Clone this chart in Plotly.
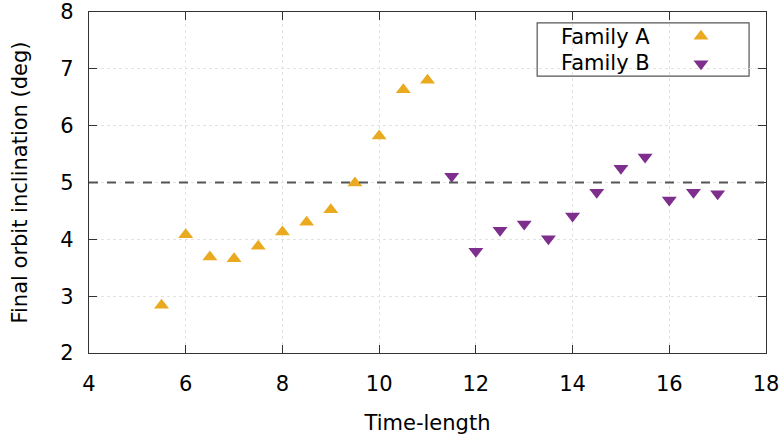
import plotly.graph_objects as go

xa = [5.5, 6, 6.5, 7, 7.5, 8, 8.5, 9, 9.5, 10, 10.5, 11]
ya = [2.84, 4.08, 3.69, 3.66, 3.88, 4.13, 4.30, 4.52, 4.99, 5.82, 6.63, 6.80]
xb = [11.5, 12, 12.5, 13, 13.5, 14, 14.5, 15, 15.5, 16, 16.5, 17]
yb = [5.11, 3.79, 4.16, 4.27, 4.01, 4.41, 4.83, 5.25, 5.45, 4.69, 4.83, 4.80]
names = ["Family A", "Family B"]
ref_level = 5
xticks = [4, 6, 8, 10, 12, 14, 16, 18]
yticks = [2, 3, 4, 5, 6, 7, 8]

ca = "#E9AA1F"
cb = "#7E2F8E"
font = "DejaVu Sans"
fs = 21

fig = go.Figure()
fig.add_trace(go.Scatter(x=xa, y=ya, mode="markers", name=names[0],
                         marker=dict(symbol="triangle-up", size=13, color=ca), showlegend=False))
fig.add_trace(go.Scatter(x=xb, y=yb, mode="markers", name=names[1],
                         marker=dict(symbol="triangle-down", size=13, color=cb), showlegend=False))

# custom legend markers (on an overlay axis in 0..1 space)
fig.add_trace(go.Scatter(x=[0.904, 0.904], y=[0.929, 0.848], mode="markers",
                         xaxis="x2", yaxis="y2", showlegend=False, hoverinfo="skip",
                         marker=dict(symbol=["triangle-up", "triangle-down"], size=13, color=[ca, cb])))

fig.add_shape(type="line", xref="paper", yref="y", x0=0, x1=1, y0=ref_level, y1=ref_level,
              line=dict(color="#555555", width=2, dash="dash"))
fig.add_shape(type="rect", xref="paper", yref="paper", x0=0.662, x1=0.975, y0=0.812, y1=0.968,
              line=dict(color="#555555", width=1.2), fillcolor="white", layer="between")

fig.add_annotation(x=0.831, y=0.927, xref="paper", yref="paper", text=names[0],
                   showarrow=False, xanchor="right", yanchor="middle",
                   font=dict(family=font, size=fs, color="black"))
fig.add_annotation(x=0.831, y=0.850, xref="paper", yref="paper", text=names[1],
                   showarrow=False, xanchor="right", yanchor="middle",
                   font=dict(family=font, size=fs, color="black"))

axis_common = dict(showline=True, linecolor="#333333", linewidth=1.2, mirror="ticks",
                   ticks="inside", ticklen=8, tickcolor="#333333", automargin=False,
                   showgrid=True, gridcolor="#e2e2e2", griddash="dot", gridwidth=1,
                   zeroline=False, tickfont=dict(family=font, size=fs, color="black"))

fig.update_layout(
    width=782, height=436,
    margin=dict(l=89, r=16, t=12, b=83),
    plot_bgcolor="white", paper_bgcolor="white",
    font=dict(family=font, size=fs, color="black"),
    xaxis=dict(range=[4, 18], tickvals=xticks, ticklabelstandoff=12,
               title=dict(text="Time-length", standoff=20, font=dict(family=font, size=fs)),
               **axis_common),
    yaxis=dict(range=[2, 8], tickvals=yticks, ticklabelstandoff=10,
               title=dict(text="Final orbit inclination (deg)", standoff=26,
                          font=dict(family=font, size=fs)),
               **axis_common),
    xaxis2=dict(range=[0, 1], overlaying="x", visible=False, fixedrange=True),
    yaxis2=dict(range=[0, 1], overlaying="y", visible=False, fixedrange=True),
)

fig.write_html("out.html")
